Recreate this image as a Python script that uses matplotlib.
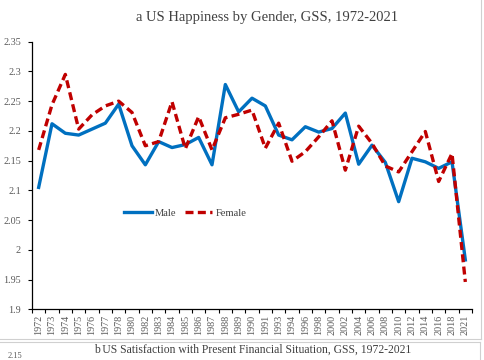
import matplotlib
matplotlib.use("Agg")
import matplotlib.pyplot as plt
from matplotlib.lines import Line2D
import numpy as np

years = ["1972", "1973", "1974", "1975", "1976", "1977", "1978", "1980", "1982", "1983",
         "1984", "1985", "1986", "1987", "1988", "1989", "1990", "1991", "1993", "1994",
         "1996", "1998", "2000", "2002", "2004", "2006", "2008", "2010", "2012", "2014",
         "2016", "2018", "2021"]
male = [2.105, 2.212, 2.196, 2.193, 2.203, 2.213, 2.245, 2.175, 2.143, 2.182,
        2.172, 2.177, 2.189, 2.143, 2.278, 2.232, 2.255, 2.242, 2.193, 2.185,
        2.207, 2.198, 2.204, 2.230, 2.144, 2.176, 2.147, 2.081, 2.154, 2.148,
        2.137, 2.148, 1.983]
female = [2.168, 2.244, 2.295, 2.203, 2.227, 2.242, 2.250, 2.231, 2.175, 2.182,
          2.249, 2.170, 2.224, 2.168, 2.222, 2.228, 2.235, 2.171, 2.213, 2.149,
          2.165, 2.190, 2.217, 2.134, 2.208, 2.179, 2.141, 2.131, 2.165, 2.199,
          2.115, 2.162, 1.946]
yticks = [1.9, 1.95, 2.0, 2.05, 2.1, 2.15, 2.2, 2.25, 2.3, 2.35]
ytick_labels = ["1.9", "1.95", "2", "2.05", "2.1", "2.15", "2.2", "2.25", "2.3", "2.35"]

SERIF = ["Liberation Serif", "DejaVu Serif"]
plt.rcParams["font.family"] = SERIF

W, H = 485, 360
fig = plt.figure(figsize=(W / 100, H / 100), dpi=100)
ax = fig.add_axes([32 / W, 1 - 309.3 / H, 440 / W, (309.3 - 41.7) / H])

x = np.arange(len(years))
ax.plot(x, male, color="#0070C0", lw=2.4, label="Male")
ax.plot(x, female, color="#C00000", lw=2.4, ls=(0, (2.4, 1.3)), label="Female")

ax.set_xlim(-0.5, len(years) - 0.5)
ax.set_ylim(1.9, 2.35)
ax.set_yticks(yticks)
ax.set_yticklabels(ytick_labels)
ax.set_xticks(x)
ax.set_xticklabels(years, rotation=90)
ax.set_xticks(np.arange(len(years) + 1) - 0.5, minor=True)
ax.tick_params(axis="x", which="major", length=0, pad=4, labelsize=7.3, labelcolor="#595959")
ax.tick_params(axis="x", which="minor", length=3, width=0.8, direction="out")
ax.tick_params(axis="y", length=3, width=0.8, direction="out", labelsize=7.3,
               labelcolor="#595959", pad=5)
for s in ["top", "right"]:
    ax.spines[s].set_visible(False)
for s in ["left", "bottom"]:
    ax.spines[s].set_linewidth(0.9)

ax.legend(loc="center", bbox_to_anchor=(0.348, 0.36), ncol=2, frameon=False,
          fontsize=7.6, handlelength=2.6, handletextpad=0.3, columnspacing=0.8,
          labelcolor="#404040")

fig.text(267 / W, 1 - 17 / H, "a US Happiness by Gender, GSS, 1972-2021",
         ha="center", va="center", fontsize=10.5, color="#404040")
fig.text(253 / W, 1 - 350 / H,
         "b\u2009US Satisfaction with Present Financial Situation, GSS, 1972-2021",
         ha="center", va="center", fontsize=8.4, color="#404040")
fig.text(8 / W, 1 - 356 / H, "2.15", ha="left", va="center", fontsize=6.0, color="#595959")

gray = "#d0d0d0"
fig.add_artist(Line2D([481 / W, 481 / W], [1 - 339 / H, 1], transform=fig.transFigure, color=gray, lw=0.8))
fig.add_artist(Line2D([0, 481 / W], [1 - 339 / H, 1 - 339 / H], transform=fig.transFigure, color=gray, lw=0.8))
fig.add_artist(Line2D([0, 480 / W], [1 - 341.5 / H, 1 - 341.5 / H], transform=fig.transFigure, color=gray, lw=0.8))
fig.add_artist(Line2D([480 / W, 480 / W], [0, 1 - 341.5 / H], transform=fig.transFigure, color=gray, lw=0.8))

fig.savefig("out.png", dpi=100)
